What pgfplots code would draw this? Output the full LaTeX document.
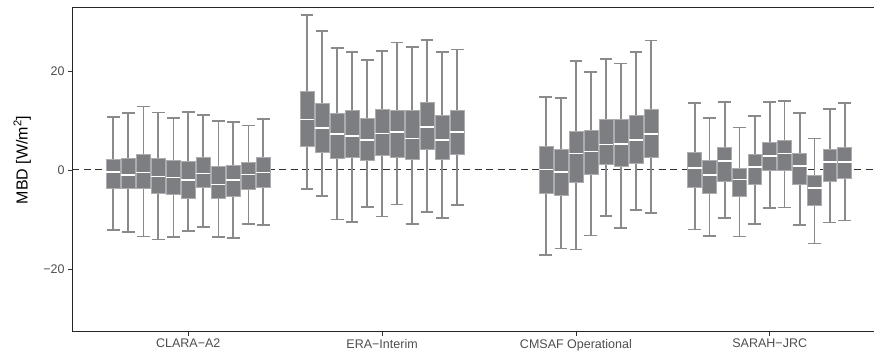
\documentclass[border=0pt]{standalone}
\usepackage{fontspec}
\setmainfont{Liberation Sans}
\usepackage{pgfplots}
\pgfplotsset{compat=1.18}
\usepgfplotslibrary{statistics}
\definecolor{boxfill}{RGB}{125,126,130}
\definecolor{boxedge}{RGB}{172,172,174}
\definecolor{whisk}{RGB}{138,138,140}
\definecolor{tickc}{RGB}{77,77,77}
% draw position, lower whisker, lower quartile, median, upper quartile, upper whisker
\newcommand{\bx}[6]{\addplot[boxplot prepared={draw position=#1, lower whisker=#2, lower quartile=#3, median=#4, upper quartile=#5, upper whisker=#6}] coordinates {};}
\begin{document}
\begin{tikzpicture}
\useasboundingbox (0pt,0pt) rectangle (874pt,355pt);
\begin{axis}[
  at={(72pt,23.3pt)}, anchor=south west,
  scale only axis, width=814pt, height=324.2pt,
  xmin=0.4, xmax=4.6, ymin=-32.7, ymax=32.8,
  xtick={1,2,3,4},
  xticklabels={CLARA−A2, ERA−Interim, CMSAF Operational, SARAH−JRC},
  ytick={-20,0,20}, yticklabels={−20,0,20},
  tick align=outside, major tick length=4pt,
  xtick pos=bottom, ytick pos=left,
  tick style={color=black!80, line width=0.6pt},
  ticklabel style={font=\fontsize{12.5}{14}\selectfont, text=tickc},
  axis line style={black!85, line width=1pt},
  ylabel={MBD [W/m\textsuperscript{2}]},
  ylabel style={font=\fontsize{16}{18}\selectfont, at={(axis description cs:-0.046,0.53)}, anchor=south},
  boxplot/draw direction=y,
  boxplot/box extend=0.072,
  boxplot/whisker extend=0.066,
  boxplot/every box/.style={fill=boxfill, draw=boxedge, line width=0.6pt},
  boxplot/every whisker/.style={draw=whisk, line width=1.6pt},
  boxplot/every median/.style={draw=white, line width=1.4pt},
]
\addplot[draw=black!80, line width=1.1pt, dash pattern=on 7pt off 4.5pt] coordinates {(0.4,0) (4.6,0)};
% CLARA-A2
\bx{0.613}{-12.19}{-3.77}{-0.47}{2.15}{10.64}
\bx{0.690}{-12.59}{-3.77}{-1.01}{2.42}{11.45}
\bx{0.768}{-13.47}{-3.64}{-0.54}{3.16}{12.79}
\bx{0.845}{-14.07}{-4.65}{-1.35}{2.29}{11.58}
\bx{0.923}{-13.60}{-4.98}{-1.55}{1.89}{10.51}
\bx{1.000}{-12.39}{-5.66}{-2.09}{1.75}{11.72}
\bx{1.077}{-11.58}{-3.50}{-0.74}{2.49}{11.04}
\bx{1.155}{-13.60}{-5.72}{-2.96}{0.81}{9.83}
\bx{1.232}{-13.80}{-5.32}{-2.09}{1.01}{9.63}
\bx{1.310}{-10.91}{-3.84}{-0.94}{1.55}{8.96}
\bx{1.387}{-11.18}{-3.43}{-0.54}{2.49}{10.24}
% ERA-Interim
\bx{1.613}{-3.91}{4.85}{10.17}{15.96}{31.31}
\bx{1.690}{-5.25}{3.50}{8.48}{13.47}{28.01}
\bx{1.768}{-10.03}{2.42}{7.27}{11.52}{24.58}
\bx{1.845}{-10.51}{2.63}{6.87}{12.05}{23.77}
\bx{1.923}{-7.47}{1.89}{6.06}{10.44}{22.15}
\bx{2.000}{-9.43}{2.96}{7.34}{12.26}{23.97}
\bx{2.077}{-7.00}{2.56}{7.68}{12.12}{25.72}
\bx{2.155}{-10.91}{2.15}{6.33}{12.12}{24.78}
\bx{2.232}{-8.48}{4.11}{8.69}{13.74}{26.20}
\bx{2.310}{-9.76}{2.22}{6.06}{11.04}{23.77}
\bx{2.387}{-7.14}{3.23}{7.61}{12.05}{24.31}
% CMSAF Operational
\bx{2.845}{-17.17}{-4.65}{0.07}{4.71}{14.75}
\bx{2.923}{-15.89}{-5.05}{-0.40}{4.24}{14.48}
\bx{3.000}{-16.09}{-2.56}{3.30}{7.81}{22.02}
\bx{3.077}{-13.27}{-0.88}{3.70}{8.08}{19.73}
\bx{3.155}{-9.29}{1.08}{5.12}{10.24}{22.36}
\bx{3.232}{-11.78}{0.67}{5.25}{10.24}{21.48}
\bx{3.310}{-8.15}{1.41}{5.99}{10.98}{23.84}
\bx{3.387}{-8.69}{2.63}{7.27}{12.26}{26.13}
% SARAH-JRC
\bx{3.613}{-12.05}{-3.43}{0.40}{3.57}{13.47}
\bx{3.690}{-13.33}{-4.65}{-1.01}{1.95}{10.51}
\bx{3.768}{-9.76}{-2.29}{1.82}{4.65}{13.67}
\bx{3.845}{-13.47}{-5.39}{-1.95}{0.34}{8.55}
\bx{3.923}{-10.91}{-2.83}{0.61}{3.10}{10.84}
\bx{4.000}{-7.68}{-0.07}{2.76}{5.59}{13.67}
\bx{4.077}{-7.61}{-0.07}{3.30}{5.93}{13.94}
\bx{4.155}{-11.18}{-2.83}{0.74}{3.30}{11.45}
\bx{4.232}{-14.88}{-7.14}{-3.70}{-1.01}{6.33}
\bx{4.310}{-10.64}{-2.22}{1.55}{4.24}{12.26}
\bx{4.387}{-10.24}{-1.75}{1.62}{4.51}{13.54}
\end{axis}
\end{tikzpicture}
\end{document}
